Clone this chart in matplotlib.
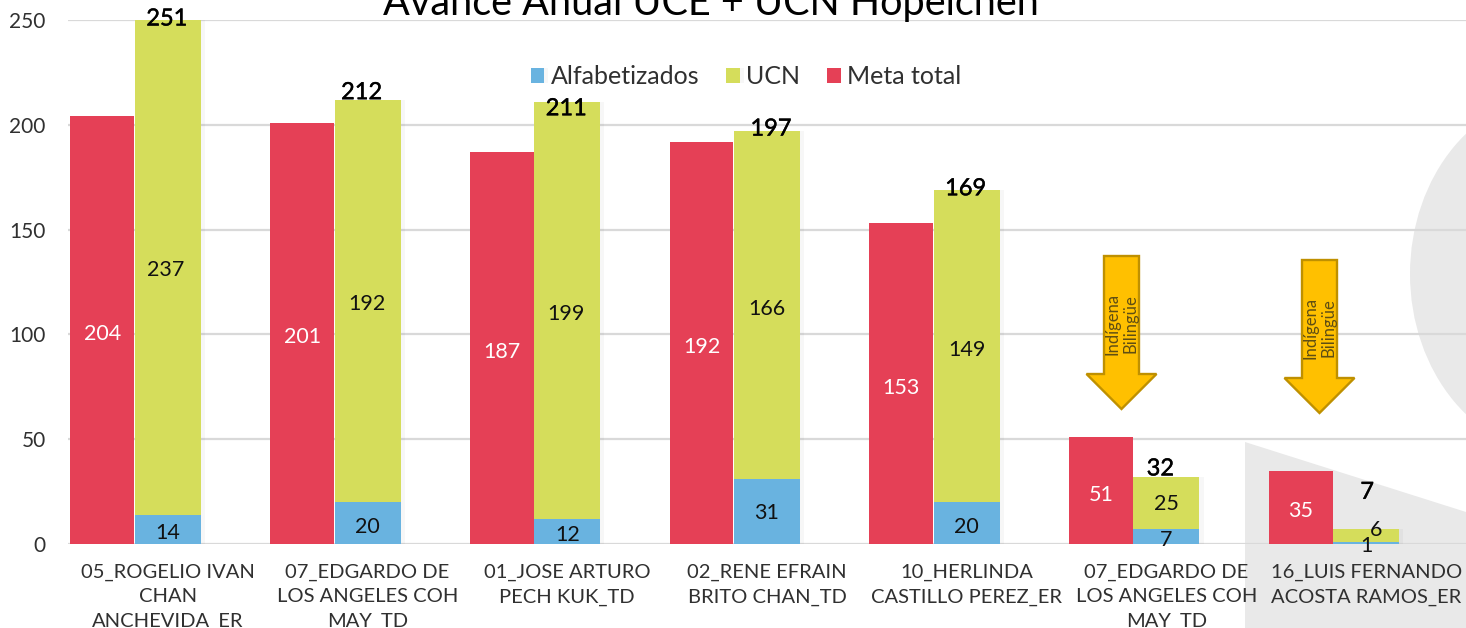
import matplotlib
matplotlib.use("Agg")
import matplotlib.pyplot as plt
import matplotlib.patheffects as pe
import numpy as np
from matplotlib.patches import Ellipse, Polygon
from matplotlib.transforms import IdentityTransform

plt.rcParams['font.family'] = ['Lato', 'DejaVu Sans']

names = ['05_ROGELIO IVAN\nCHAN\nANCHEVIDA_ER',
         '07_EDGARDO DE\nLOS ANGELES COH\nMAY_TD',
         '01_JOSE ARTURO\nPECH KUK_TD',
         '02_RENE EFRAIN\nBRITO CHAN_TD',
         '10_HERLINDA\nCASTILLO PEREZ_ER',
         '07_EDGARDO DE\nLOS ANGELES COH\nMAY_TD',
         '16_LUIS FERNANDO\nACOSTA RAMOS_ER']
meta = [204, 201, 187, 192, 153, 51, 35]
alfa = [14, 20, 12, 31, 20, 7, 1]
ucn = [237, 192, 199, 166, 149, 25, 6]
totals = [251, 212, 211, 197, 169, 32, 7]

# hand placed labels in the original, pixels from the default spot
total_dx = [-1, -6, -1, 4, -1, -6, 1]
total_dy = [-9, -3, -17, -8, -9, -2, 27]
ucn_dx = [-2, -1, -1, 0, 0, 0, 10]
ucn_dy = [-4, -3, -4, -4, -4, -1, 6]
alfa_dy = [-4, -4, -4, -1, -4, -3, -3]

W, H = 1466, 628
RED = '#E54056'
GREEN = '#D5DD5B'
BLUE = '#69B3E0'
GREY = '#E9E9E9'
TXT = '#303030'

fig = plt.figure(figsize=(W / 100, H / 100), dpi=100, facecolor='white')
ax = fig.add_axes([68 / W, (H - 544) / H, (W - 68) / W, 524 / H])
ax.patch.set_alpha(0)


def px(x, y):
    return (x, H - y)


# grey decoration behind the chart
fig.add_artist(Ellipse(px(1560, 274), 300, 360, color=GREY, lw=0,
                       transform=IdentityTransform(), zorder=-1))
fig.add_artist(Polygon([px(1245, 442), px(1466, 512), px(1466, 628), px(1245, 628)],
                       color=GREY, lw=0, transform=IdentityTransform(), zorder=-1))

x = np.arange(len(names))
shadow = [pe.SimplePatchShadow(offset=(3, 0), shadow_rgbFace='#000000', alpha=0.03), pe.Normal()]

ax.bar(x - 0.328, meta, 0.32, color=RED, label='Meta total', zorder=3)
b1 = ax.bar(x, alfa, 0.33, color=BLUE, label='Alfabetizados', zorder=3)
b2 = ax.bar(x, ucn, 0.33, bottom=alfa, color=GREEN, label='UCN', zorder=3)
for b in list(b1) + list(b2):
    b.set_path_effects(shadow)

ax.set_xlim(-0.5, 6.5)
ax.set_ylim(0, 250)
ax.set_yticks([0, 50, 100, 150, 200, 250])
ax.set_xticks(x)
ax.set_xticklabels(names, fontsize=14.5, color=TXT, linespacing=1.5)
ax.tick_params(axis='both', length=0, labelcolor=TXT)
ax.tick_params(axis='y', labelsize=15, pad=16)
ax.tick_params(axis='x', pad=14.5)
ax.grid(axis='y', color='#D9D9D9', lw=1.6, zorder=0)
ax.set_axisbelow(True)
for s in ax.spines.values():
    s.set_visible(False)

for i in range(len(names)):
    ax.annotate(str(meta[i]), (x[i] - 0.328, meta[i] / 2), xytext=(0, -4), textcoords='offset pixels',
                ha='center', va='center', color='white', fontsize=15.5, zorder=5)
    ax.annotate(str(ucn[i]), (x[i], alfa[i] + ucn[i] / 2), xytext=(ucn_dx[i], ucn_dy[i]),
                textcoords='offset pixels', ha='center', va='center', color='#111111',
                fontsize=15.5, zorder=5)
    ax.annotate(str(alfa[i]), (x[i], alfa[i] / 2), xytext=(0, alfa_dy[i]),
                textcoords='offset pixels', ha='center', va='center', color='#111111',
                fontsize=15.5, zorder=5, annotation_clip=False)
    t = ax.annotate(str(totals[i]), (x[i], min(totals[i], 250)), xytext=(total_dx[i], 10 + total_dy[i]),
                    textcoords='offset pixels', ha='center', va='center', color='black',
                    fontsize=17, zorder=6, annotation_clip=False)
    t.set_path_effects([pe.withStroke(linewidth=0.3, foreground='black')])

handles, labels = ax.get_legend_handles_labels()
order = [labels.index('Alfabetizados'), labels.index('UCN'), labels.index('Meta total')]
leg = ax.legend([handles[i] for i in order], [labels[i] for i in order], ncols=3, frameon=False,
                loc='center', bbox_to_anchor=((746 - 68) / (W - 68), (544 - 77) / 524),
                fontsize=18, handlelength=0.55, handleheight=0.55, handletextpad=0.25,
                columnspacing=1.08, labelcolor=TXT)

fig.text(711 / W, (H - 15) / H, 'Avance Anual UCE + UCN Hopelchen', ha='center', va='baseline',
         fontsize=28.5, color='black')

# the two arrows, placed on the sheet by hand in the original
for ax0, top in [(1121.5, 256), (1319.5, 260)]:
    pts = [(ax0 - 17.5, top), (ax0 + 17.5, top), (ax0 + 17.5, top + 118), (ax0 + 35, top + 118),
           (ax0, top + 153), (ax0 - 35, top + 118), (ax0 - 17.5, top + 118), (ax0 - 17.5, top)]
    fig.add_artist(Polygon([px(a, b) for a, b in pts], closed=True, facecolor='#FFC000', edgecolor='#BF9000',
                           lw=1.7, joinstyle='miter', transform=IdentityTransform(), zorder=5))
    fig.text((ax0 - 9) / W, (H - (top + 68)) / H, 'Indígena', rotation=90, ha='center', va='center',
             fontsize=12, color='#5F4E14', zorder=6)
    fig.text((ax0 + 9) / W, (H - (top + 68)) / H, 'Bilingüe', rotation=90, ha='center', va='center',
             fontsize=12, color='#5F4E14', zorder=6)

fig.savefig('out.png', dpi=100)
